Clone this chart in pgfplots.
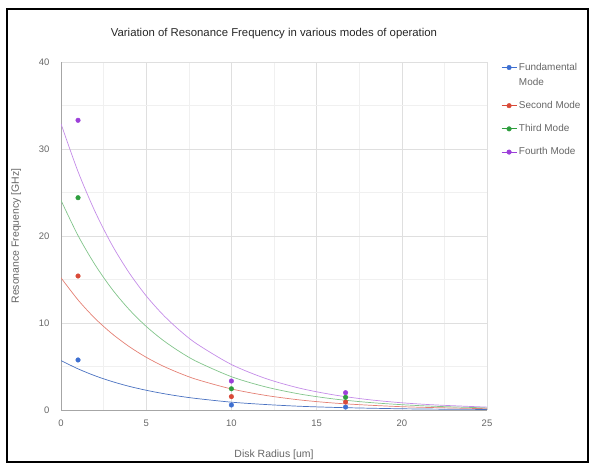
\documentclass[border=0pt]{standalone}
\usepackage{pgfplots}
\pgfplotsset{compat=1.18}
\usepackage{fontspec}
\setmainfont{Liberation Sans}
\definecolor{cF}{HTML}{3D6FD1}
\definecolor{cS}{HTML}{D94A38}
\definecolor{cT}{HTML}{2E9E3E}
\definecolor{cQ}{HTML}{9C3FD9}
\definecolor{txt}{HTML}{666666}
\begin{document}
\begin{tikzpicture}[x=1bp,y=1bp]
\path[use as bounding box] (-61,-54) rectangle (529,410);
\draw[line width=2bp,black] (-54,-52) rectangle (527,401);
\begin{axis}[
  at={(0,0)}, anchor=south west,
  scale only axis, width=426bp, height=348bp,
  xmin=0, xmax=25, ymin=0, ymax=40,
  xtick={0,5,...,25}, ytick={0,10,...,40},
  minor x tick num=1, minor y tick num=1,
  grid=both,
  major grid style={draw=gray!25, line width=0.6bp},
  minor grid style={draw=gray!12, line width=0.5bp},
  axis line style={draw=gray!70, line width=0.8bp},
  axis x line*=bottom, axis y line*=left,
  tick style={draw=none},
  ticklabel style={font=\fontsize{9.5}{11}\selectfont, text=txt},
  yticklabel style={xshift=-8bp},
  xticklabel style={yshift=-6bp},
  /pgf/number format/assume math mode=true,
  xlabel={Disk Radius [um]}, ylabel={Resonance Frequency [GHz]},
  label style={font=\fontsize{10.5}{12}\selectfont, text=txt},
  xlabel style={yshift=-17bp},
  ylabel style={yshift=11bp},
  title={Variation of Resonance Frequency in various modes of operation},
  title style={font=\fontsize{11.4}{13}\selectfont, text=black!85, at={(0.5,1)}, yshift=14bp},
  legend style={at={(1,1)}, anchor=north west, xshift=11bp, yshift=3bp, draw=none, fill=none,
    font=\fontsize{10}{15}\selectfont, text=txt, row sep=10.5bp,
    legend cell align=left, nodes={align=left}},
  legend image code/.code={
    \draw[#1, mark=none, line width=0.8bp] (0bp,0bp) -- (15bp,0bp);
    \draw[#1, only marks] plot coordinates {(7.5bp,0bp)};
  },
]
% trendlines
\addplot[cF!80!gray, line width=0.7bp, smooth, forget plot] coordinates {
(0,5.68)(1,4.73)(2,3.93)(3,3.27)(4,2.72)(5,2.27)(6,1.89)(7,1.57)(8,1.31)(10,0.90)(12,0.63)(14,0.43)(16,0.30)(18,0.21)(20,0.14)(22,0.10)(25,0.06)};
\addplot[cS!70!white, line width=0.7bp, smooth, forget plot] coordinates {
(0,15.2)(1,12.65)(2,10.52)(3,8.76)(4,7.29)(5,6.06)(6,5.04)(7,4.20)(8,3.49)(10,2.42)(12,1.68)(14,1.16)(16,0.80)(18,0.56)(20,0.38)(22,0.27)(25,0.15)};
\addplot[cT!60!white, line width=0.7bp, smooth, forget plot] coordinates {
(0,24.1)(1,20.05)(2,16.69)(3,13.88)(4,11.55)(5,9.61)(6,8.0)(7,6.66)(8,5.54)(10,3.83)(12,2.66)(14,1.84)(16,1.27)(18,0.88)(20,0.61)(22,0.42)(25,0.24)};
\addplot[cQ!60!white, line width=0.7bp, smooth, forget plot] coordinates {
(0,32.9)(1,27.4)(2,22.8)(3,18.95)(4,15.77)(5,13.12)(6,10.92)(7,9.09)(8,7.56)(10,5.23)(12,3.63)(14,2.51)(16,1.74)(18,1.20)(20,0.83)(22,0.58)(25,0.33)};
% points
\addplot[cF, only marks, mark=*, mark size=2.3bp,
  legend image code/.code={
    \draw[cF, line width=0.8bp] (0bp,7.5bp) -- (15bp,7.5bp);
    \fill[cF] (7.5bp,7.5bp) circle[radius=2.3bp];
  }] coordinates {(1,5.75)(10,0.575)(16.7,0.34)};
\addlegendentry{Fundamental\\Mode}
\addplot[cS, only marks, mark=*, mark size=2.3bp] coordinates {(1,15.4)(10,1.54)(16.7,0.92)};
\addlegendentry{Second Mode}
\addplot[cT, only marks, mark=*, mark size=2.3bp] coordinates {(1,24.4)(10,2.44)(16.7,1.46)};
\addlegendentry{Third Mode}
\addplot[cQ, only marks, mark=*, mark size=2.3bp] coordinates {(1,33.3)(10,3.33)(16.7,1.99)};
\addlegendentry{Fourth Mode}
\end{axis}
\end{tikzpicture}
\end{document}
